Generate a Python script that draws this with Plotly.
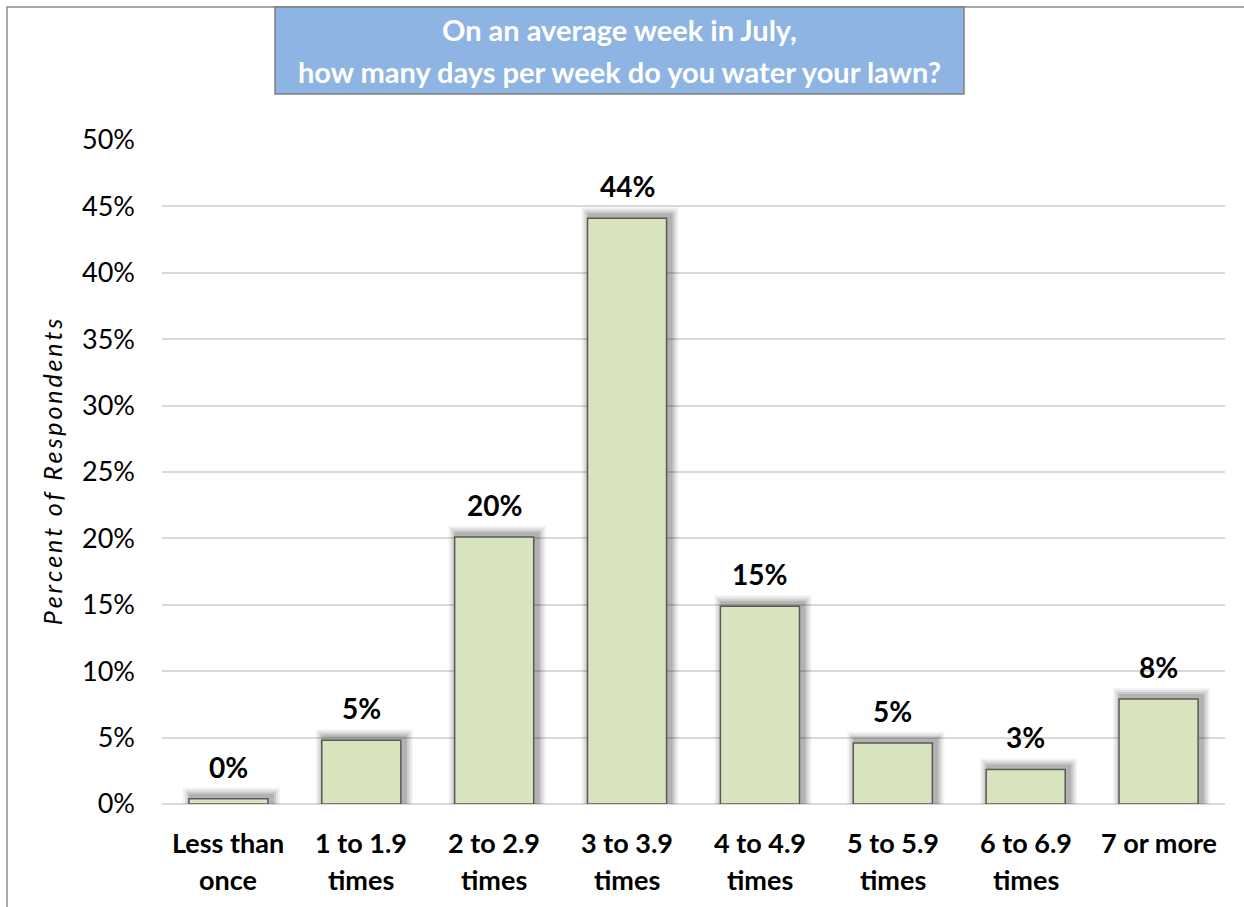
import plotly.graph_objects as go

# Survey results: share of respondents by weekly lawn-watering frequency in July
categories = ["Less than<br>once", "1 to 1.9<br>times", "2 to 2.9<br>times", "3 to 3.9<br>times",
              "4 to 4.9<br>times", "5 to 5.9<br>times", "6 to 6.9<br>times", "7 or more"]
percent = [0.4, 4.8, 20.1, 44.1, 14.9, 4.6, 2.6, 7.9]
y_ticks = [0, 5, 10, 15, 20, 25, 30, 35, 40, 45, 50]
y_title = "Percent of Respondents"

W, H = 1244, 907
L, R, T, B = 162, 19, 140, 103
plot_w = W - L - R
plot_h = H - T - B
px_x = 1.0 / (plot_w / len(categories))   # category units per pixel
px_y = 50.0 / plot_h                       # percent units per pixel

FONT = "Lato"
BAR_W = 0.595

fig = go.Figure()

# soft drop shadow behind each bar, built from a few translucent layers
for grow, alpha in [(9, 0.05), (7, 0.07), (5, 0.09), (3, 0.12)]:
    w = BAR_W + 2 * grow * px_x
    fig.add_trace(go.Bar(
        x=categories,
        y=[v + (grow + 2) * px_y for v in percent],
        width=w,
        offset=-w / 2 + 3 * px_x,
        marker=dict(color=f"rgba(0,0,0,{alpha})", line=dict(width=0)),
        hoverinfo="skip",
        showlegend=False,
    ))

fig.add_trace(go.Bar(
    x=categories,
    y=percent,
    width=BAR_W,
    marker=dict(color="#D7E4BD", line=dict(color="#5A5A5A", width=1.5)),
    showlegend=False,
))

annotations = []
# value labels above bars
for c, v in zip(categories, percent):
    annotations.append(dict(
        x=c, y=v, xref="x", yref="y", text=f"<b>{v:.0f}%</b>",
        showarrow=False, yanchor="bottom", yshift=13,
        font=dict(family=FONT, size=28, color="#000000"),
    ))

# category labels, two lines each
for c in categories:
    lines = c.split("<br>")
    for i, line in enumerate(lines):
        annotations.append(dict(
            x=c, xref="x", yref="paper",
            y=-(842 - (H - B)) / plot_h - i * 37 / plot_h,
            text=f"<b>{line}</b>", showarrow=False,
            yanchor="middle",
            font=dict(family=FONT, size=27, color="#000000"),
        ))

# chart title inside its blue box
title_lines = ["On an average week in July,", "how many days per week do you water your lawn?"]
for i, line in enumerate(title_lines):
    annotations.append(dict(
        x=(619 - L) / plot_w, xref="paper", yref="paper",
        y=((H - B) - (30 + i * 41)) / plot_h,
        text=f"<b>{line}</b>", showarrow=False, yanchor="middle",
        font=dict(family=FONT, size=29, color="#FFFFFF"),
    ))

def px2x(p):
    return (p - L) / plot_w

def px2y(p):
    return ((H - B) - p) / plot_h

shapes = [
    # outer chart frame
    dict(type="rect", xref="paper", yref="paper",
         x0=px2x(7), x1=px2x(W + 20), y0=px2y(H + 20), y1=px2y(7),
         line=dict(color="#8C8C8C", width=1.5), fillcolor="rgba(0,0,0,0)", layer="below"),
    # title box
    dict(type="rect", xref="paper", yref="paper",
         x0=px2x(275), x1=px2x(964), y0=px2y(94), y1=px2y(7),
         line=dict(color="#7F7F7F", width=1.5), fillcolor="#8EB4E3", layer="below"),
]

# axis title with slightly widened letter spacing (thin spaces)
spaced_title = "\u2009".join(y_title)

fig.update_layout(
    width=W, height=H,
    margin=dict(l=L, r=R, t=T, b=B),
    paper_bgcolor="#FFFFFF",
    plot_bgcolor="#FFFFFF",
    barmode="overlay",
    annotations=annotations,
    shapes=shapes,
    font=dict(family=FONT, color="#000000"),
    xaxis=dict(
        showticklabels=False, showgrid=False, zeroline=False,
        showline=False, ticks="",
    ),
    yaxis=dict(
        range=[0, 50], tickvals=y_ticks, ticktext=[f"{t}%" for t in y_ticks],
        showgrid=True, gridcolor="#D9D9D9", gridwidth=1.5,
        zeroline=True, zerolinecolor="#D9D9D9", zerolinewidth=1.5,
        showline=False, ticks="", ticklabelstandoff=26,
        tickfont=dict(family=FONT, size=27, color="#000000"),
        title=dict(text=f"<i>{spaced_title}</i>",
                   font=dict(family=FONT, size=25, color="#000000"), standoff=12),
    ),
)

fig.write_html("out.html")
